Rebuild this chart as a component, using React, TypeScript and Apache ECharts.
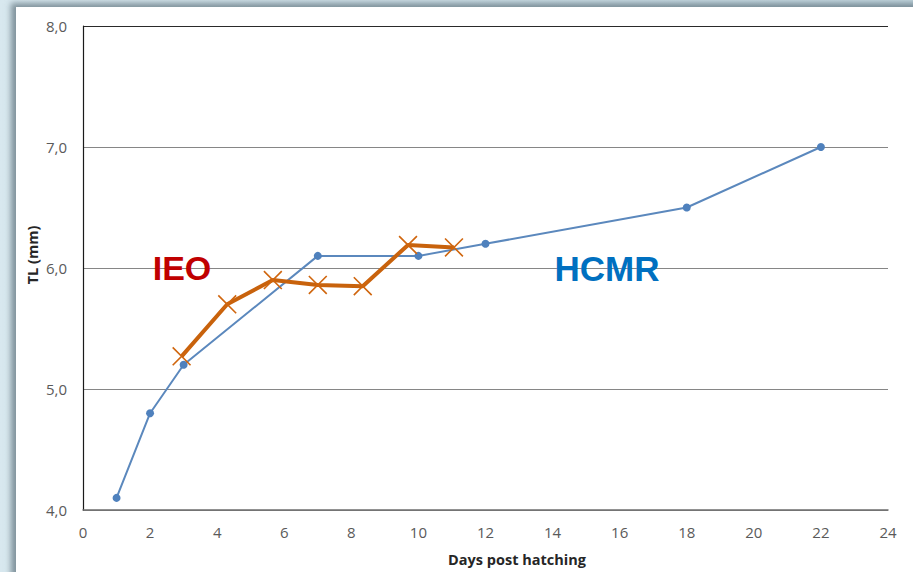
import React, { useEffect, useRef } from "react";
import * as echarts from "echarts";

const hcmrDays = [1, 2, 3, 7, 10, 12, 18, 22];
const hcmrTL = [4.1, 4.8, 5.2, 6.1, 6.1, 6.2, 6.5, 7.0];
const ieoDays = [2.94, 4.3, 5.66, 7.0, 8.34, 9.69, 11.06];
const ieoTL = [5.27, 5.7, 5.9, 5.86, 5.85, 6.19, 6.17];
const xTicks = { min: 0, max: 24, interval: 2 };
const yTicks = { min: 4, max: 8, interval: 1 };

const CROSS =
  "path://M0,1.2L1.2,0L20,18.8L18.8,20Z M18.8,0L20,1.2L1.2,20L0,18.8Z";

export default function App() {
  const ref = useRef<HTMLDivElement>(null);
  useEffect(() => {
    const chart = echarts.init(ref.current!, null, { renderer: "svg" });
    const font = "'Open Sans', 'Liberation Sans', sans-serif";
    chart.setOption({
      animation: false,
      backgroundColor: "transparent",
      grid: { left: 83, top: 26, right: 25, bottom: 62, containLabel: false },
      xAxis: {
        type: "value",
        min: xTicks.min,
        max: xTicks.max,
        interval: xTicks.interval,
        axisLine: { show: true, lineStyle: { color: "#6e6e6e", width: 1.5 } },
        axisTick: { show: false },
        splitLine: { show: false },
        axisLabel: { color: "#5a5a5a", fontSize: 15, fontFamily: font, margin: 14 },
      },
      yAxis: {
        type: "value",
        min: yTicks.min,
        max: yTicks.max,
        interval: yTicks.interval,
        axisLine: { show: true, lineStyle: { color: "#1a1a1a", width: 1.2 } },
        axisTick: { show: false },
        splitLine: {
          show: true,
          lineStyle: {
            color: ["#868686", "#868686", "#868686", "#868686", "#2a2a2a"],
            width: 1.2,
          },
        },
        axisLabel: {
          color: "#5a5a5a",
          fontSize: 15,
          fontFamily: font,
          margin: 16,
          formatter: (v: number) => v.toFixed(1).replace(".", ","),
        },
      },
      graphic: [
        {
          type: "text",
          x: 517,
          y: 559,
          style: {
            text: "Days post hatching",
            font: `bold 14.5px ${font}`,
            fill: "#262626",
            align: "center",
            verticalAlign: "middle",
          },
        },
        {
          type: "text",
          x: 32,
          y: 255,
          rotation: Math.PI / 2,
          style: {
            text: "TL (mm)",
            font: `bold 14.5px ${font}`,
            fill: "#262626",
            align: "center",
            verticalAlign: "middle",
          },
        },
        {
          type: "text",
          x: 182,
          y: 268,
          z: 10,
          style: {
            text: "IEO",
            font: "bold 34px 'Liberation Sans', Arial, sans-serif",
            fill: "#c00000",
            align: "center",
            verticalAlign: "middle",
          },
        },
        {
          type: "text",
          x: 607,
          y: 268,
          z: 10,
          style: {
            text: "HCMR",
            font: "bold 35px 'Liberation Sans', Arial, sans-serif",
            fill: "#0070c0",
            align: "center",
            verticalAlign: "middle",
          },
        },
      ],
      series: [
        {
          name: "HCMR",
          type: "line",
          data: hcmrDays.map((d, i) => [d, hcmrTL[i]]),
          lineStyle: { color: "#5b88bd", width: 2 },
          itemStyle: { color: "#4f81bd" },
          symbol: "circle",
          symbolSize: 8,
          z: 2,
        },
        {
          name: "IEO",
          type: "line",
          data: ieoDays.map((d, i) => [d, ieoTL[i]]),
          lineStyle: { color: "#c8620c", width: 4 },
          itemStyle: { color: "#d0660e" },
          symbol: CROSS,
          symbolSize: 19,
          z: 3,
        },
      ],
    });
    return () => chart.dispose();
  }, []);

  return (
    <div
      style={{
        position: "fixed",
        left: 0,
        top: 0,
        width: 913,
        height: 572,
        background: "linear-gradient(to right, #d8e8ef, #c4d8e1)",
        overflow: "hidden",
      }}
    >
      <div
        style={{
          position: "absolute",
          left: 16,
          top: 7,
          width: 920,
          height: 600,
          background: "#ffffff",
          boxShadow: "-5px -4px 6px rgba(70,90,100,0.6)",
        }}
      />
      <div
        ref={ref}
        style={{ position: "absolute", left: 0, top: 0, width: 913, height: 572 }}
      />
    </div>
  );
}
